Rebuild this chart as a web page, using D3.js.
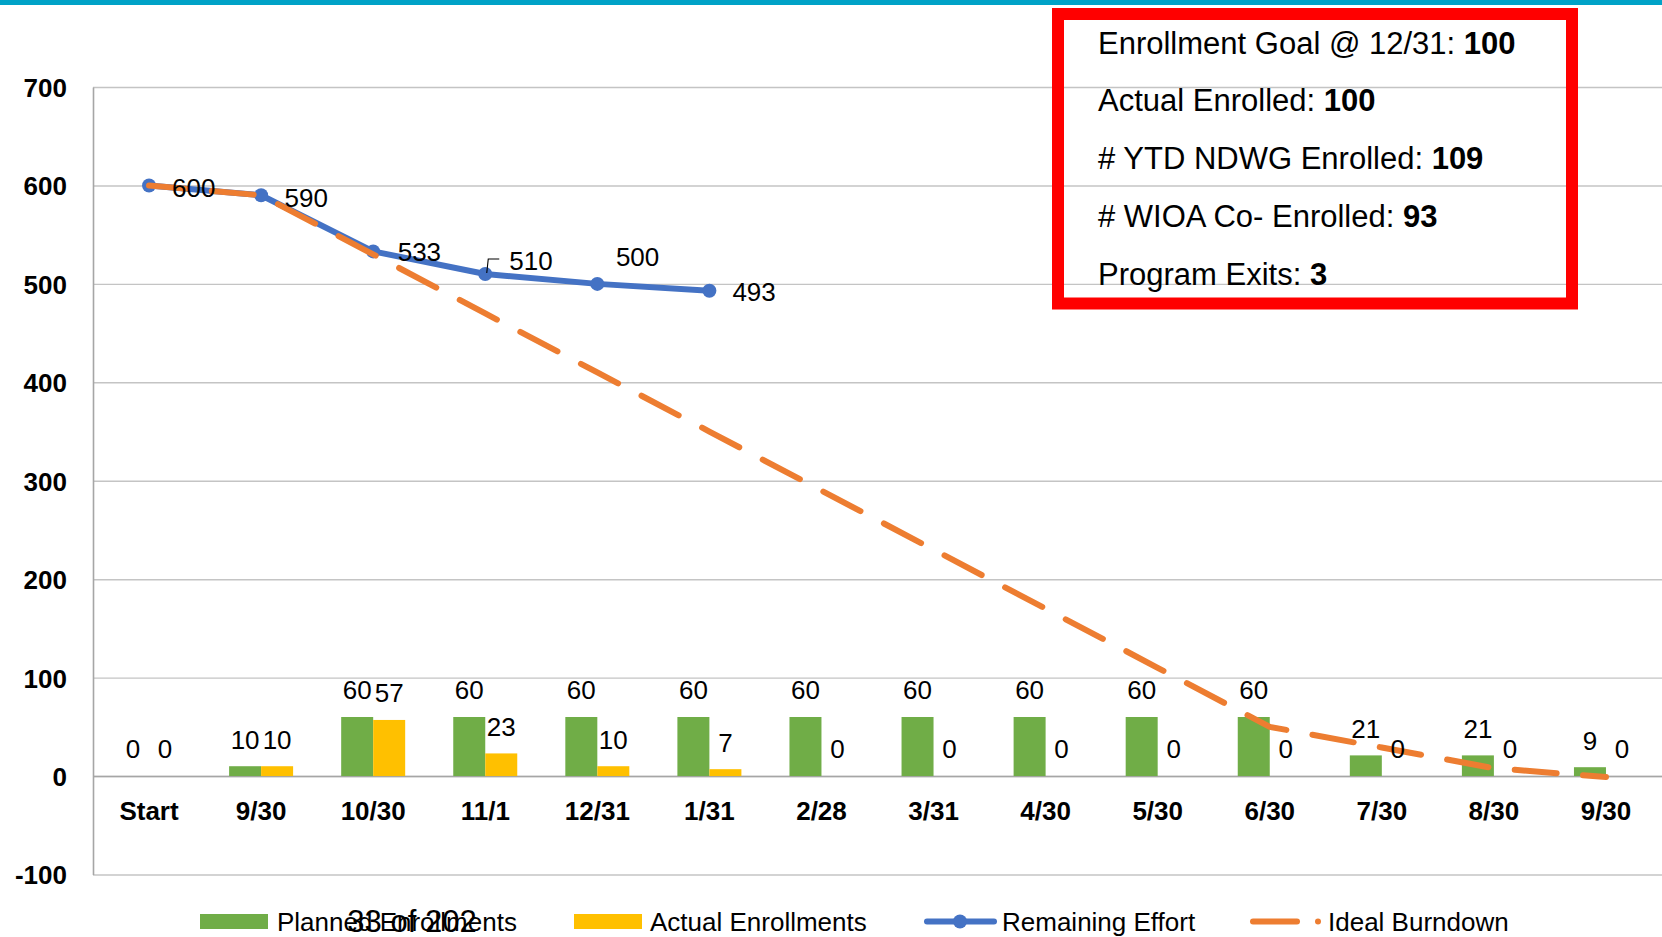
<!DOCTYPE html>
<html>
<head>
<meta charset="utf-8">
<script src="https://cdn.jsdelivr.net/npm/d3@7"></script>
<style>
  html, body { margin: 0; padding: 0; background: #fff; }
  svg { display: block; font-family: "Liberation Sans", Arial, sans-serif; }
</style>
</head>
<body>
<svg id="chart" width="1662" height="937"></svg>
<script>
// ---------- data ----------
const categories = ["Start","9/30","10/30","11/1","12/31","1/31","2/28","3/31","4/30","5/30","6/30","7/30","8/30","9/30"];
const planned    = [0,10,60,60,60,60,60,60,60,60,60,21,21,9];
const actual     = [0,10,57,23,10,7,0,0,0,0,0,0,0,0];
const remaining  = [600,590,533,510,500,493];
const ideal      = [600,590,530,470,410,350,290,230,170,110,50,29,8,-1];
const yTicks     = [-100,0,100,200,300,400,500,600,700];
const seriesNames = ["Planned Enrollments","Actual Enrollments","Remaining Effort","Ideal Burndown"];
const infoLabels = ["Enrollment Goal @ 12/31: ","Actual Enrolled: ","# YTD NDWG Enrolled: ","# WIOA Co- Enrolled: ","Program Exits: "];
const infoValues = ["100","100","109","93","3"];
const pageText = "33 of 202";

// ---------- layout ----------
const W = 1662, H = 937;
const plotL = 93, plotR = 1662, plotT = 87, plotB = 874.5;
const colors = { planned: "#70AD47", actual: "#FFC000", remaining: "#4472C4", ideal: "#ED7D31" };
// label nudges for the remaining-effort labels (dx, dy from marker)
const remLabelOffsets = [[23,2],[23.5,2],[24.5,0],[24,-13],[18.6,-27],[23,1]];

const svg = d3.select("#chart");

// top teal bar
svg.append("rect").attr("x",0).attr("y",0).attr("width",W).attr("height",5).attr("fill","#00A2C7");

const idx = d3.range(categories.length);
const x = d3.scaleBand().domain(idx).range([plotL, plotR]).paddingInner(0).paddingOuter(0);
const y = d3.scaleLinear().domain([-100, 700]).range([plotB, plotT]);
const cx = i => x(i) + x.bandwidth() / 2;
const barW = 32;

// gridlines
const grid = svg.append("g").attr("transform", `translate(${plotL},0)`)
  .call(d3.axisRight(y).tickValues(yTicks).tickSize(plotR - plotL).tickFormat(""));
grid.select(".domain").remove();
grid.selectAll(".tick line").attr("stroke", "#C4C4C4").attr("stroke-width", 1.4);

// y axis
const yAx = svg.append("g").attr("transform", `translate(${plotL},0)`)
  .call(d3.axisLeft(y).tickValues(yTicks).tickSize(0).tickPadding(26).tickFormat(d => String(d)));
yAx.select(".domain").attr("stroke", "#A6A6A6").attr("stroke-width", 1.6);
yAx.selectAll(".tick text").attr("font-family", "Liberation Sans, Arial, sans-serif")
  .attr("font-size", 26).attr("font-weight", "bold").attr("fill", "#000").attr("dy", "0.36em");

// x axis at zero
const xAx = svg.append("g").attr("transform", `translate(0,${y(0)})`)
  .call(d3.axisBottom(x).tickSize(0).tickFormat(i => categories[i]));
xAx.select(".domain").attr("stroke", "#A6A6A6").attr("stroke-width", 1.6);
xAx.selectAll(".tick text").attr("font-family", "Liberation Sans, Arial, sans-serif")
  .attr("font-size", 26).attr("font-weight", "bold").attr("fill", "#000")
  .attr("y", 44).attr("dy", 0);

// bars
const bars = svg.append("g");
bars.selectAll(".p").data(planned).join("rect").attr("class","p")
  .attr("x", (d,i) => cx(i) - barW).attr("width", barW)
  .attr("y", d => y(d)).attr("height", d => y(0) - y(d)).attr("fill", colors.planned);
bars.selectAll(".a").data(actual).join("rect").attr("class","a")
  .attr("x", (d,i) => cx(i)).attr("width", barW)
  .attr("y", d => y(d)).attr("height", d => y(0) - y(d)).attr("fill", colors.actual);

// remaining effort line
const line = d3.line().x((d,i) => cx(i)).y(d => y(d));
svg.append("path").datum(remaining).attr("d", line)
  .attr("fill", "none").attr("stroke", colors.remaining).attr("stroke-width", 6)
  .attr("stroke-linejoin", "round");
svg.append("g").selectAll("circle").data(remaining).join("circle")
  .attr("cx", (d,i) => cx(i)).attr("cy", d => y(d)).attr("r", 7).attr("fill", colors.remaining);

// ideal burndown
svg.append("path").datum(ideal).attr("d", line)
  .attr("fill", "none").attr("stroke", colors.ideal).attr("stroke-width", 6)
  .attr("stroke-linecap", "round").attr("stroke-linejoin", "round")
  .attr("stroke-dasharray", "42,26.5").attr("stroke-dashoffset", 5.5);

// bar labels
const lab = svg.append("g").attr("font-size", 26).attr("fill", "#000").attr("text-anchor", "middle");
lab.selectAll(".pl").data(planned).join("text").attr("class","pl")
  .attr("x", (d,i) => cx(i) - barW/2).attr("y", d => y(d) - 27).attr("dy", "0.36em").text(d => d);
lab.selectAll(".al").data(actual).join("text").attr("class","al")
  .attr("x", (d,i) => cx(i) + barW/2).attr("y", d => y(d) - 27).attr("dy", "0.36em").text(d => d);

// remaining labels
svg.append("g").attr("font-size", 26).attr("fill", "#000")
  .selectAll("text").data(remaining).join("text")
  .attr("x", (d,i) => cx(i) + remLabelOffsets[i][0])
  .attr("y", (d,i) => y(d) + remLabelOffsets[i][1]).attr("dy", "0.36em").text(d => d);
// leader line for 510
{
  const mx = cx(3), my = y(remaining[3]);
  svg.append("path").attr("d", `M${mx+1.5},${my-1} L${mx+3},${my-15} L${mx+14},${my-15}`)
    .attr("fill","none").attr("stroke","#000").attr("stroke-width",1.1);
}

// info box
svg.append("rect").attr("x", 1058).attr("y", 14).attr("width", 514).attr("height", 289.5)
  .attr("fill", "none").attr("stroke", "#FF0000").attr("stroke-width", 12);
const info = svg.append("g").attr("font-size", 31).attr("fill", "#000");
infoLabels.forEach((t, i) => {
  const tx = info.append("text").attr("x", 1098).attr("y", 53.5 + i * 57.8);
  tx.append("tspan").text(t);
  tx.append("tspan").attr("font-weight", "bold").text(infoValues[i]);
});

// legend
const lg = svg.append("g").attr("font-size", 26).attr("fill", "#000");
const ly = 921.5;
lg.append("rect").attr("x", 200).attr("y", 914).attr("width", 68).attr("height", 15).attr("fill", colors.planned);
lg.append("text").attr("x", 277).attr("y", 931).text(seriesNames[0]);
lg.append("rect").attr("x", 574).attr("y", 914).attr("width", 68).attr("height", 15).attr("fill", colors.actual);
lg.append("text").attr("x", 650).attr("y", 931).text(seriesNames[1]);
lg.append("line").attr("x1", 927).attr("x2", 994).attr("y1", ly).attr("y2", ly)
  .attr("stroke", colors.remaining).attr("stroke-width", 6).attr("stroke-linecap", "round");
lg.append("circle").attr("cx", 960).attr("cy", ly).attr("r", 7).attr("fill", colors.remaining);
lg.append("text").attr("x", 1002).attr("y", 931).text(seriesNames[2]);
lg.append("line").attr("x1", 1253).attr("x2", 1297).attr("y1", ly).attr("y2", ly)
  .attr("stroke", colors.ideal).attr("stroke-width", 6).attr("stroke-linecap", "round");
lg.append("circle").attr("cx", 1318).attr("cy", ly).attr("r", 3).attr("fill", colors.ideal);
lg.append("text").attr("x", 1328).attr("y", 931).text(seriesNames[3]);

// overlapping page number
svg.append("text").attr("x", 412).attr("y", 932).attr("text-anchor", "middle")
  .attr("font-size", 31).attr("fill", "#000").text(pageText);
</script>
</body>
</html>
